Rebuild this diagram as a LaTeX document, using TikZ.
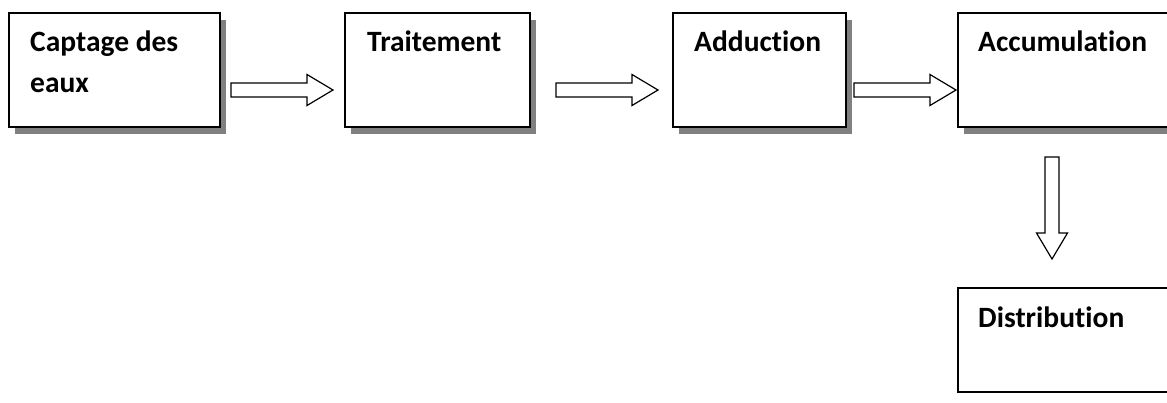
\documentclass[tikz,border=0pt]{standalone}
\usepackage{fontspec}
\setmainfont{Carlito}[Ligatures=NoCommon]

\tikzset{
    stage/.style={draw=black, fill=white, line width=1.6pt, inner sep=0pt,
        minimum width=#1, minimum height=114pt, anchor=north west},
    shadowed/.style={preaction={fill=black!50, transform canvas={xshift=6.5pt, yshift=-7.5pt}}},
    stagetext/.style={anchor=base west, inner sep=0pt, align=left,
        font=\fontsize{29.5}{41}\selectfont\bfseries},
    arrowline/.style={draw=black, fill=white, line width=1.2pt, line join=miter}
}
% block arrow of length 102, starting at #1, turned by #2
\newcommand{\blockarrow}[2]{%
    \draw[arrowline, shift={(#1)}, rotate=#2]
        (0,-7) -- (76,-7) -- (76,-15.5) -- (102,0) -- (76,15.5) -- (76,7) -- (0,7) -- cycle;}

\begin{document}
\begin{tikzpicture}[x=1pt, y=-1pt]
    \clip (0,0) rectangle (1167,402);
    \fill[white] (0,0) rectangle (1167,402);

    % stages
    \node[stage=211pt, shadowed] (capt) at (8,12) {};
    \node[stage=185pt, shadowed] (trait) at (344,12) {};
    \node[stage=173pt, shadowed] (addu) at (672,12) {};
    \node[stage=225pt, shadowed] (accu) at (957,12) {};
    \node[stage=225pt, minimum height=104pt] (distr) at (957,287) {};

    \node[stagetext] (captT)  at ([xshift=22pt,yshift=-80pt]capt.north west)  {Captage des\\eaux};
    \node[stagetext] (traitT) at ([xshift=23pt,yshift=-39pt]trait.north west) {Traitement};
    \node[stagetext] (adduT)  at ([xshift=22pt,yshift=-39pt]addu.north west)  {Adduction};
    \node[stagetext] (accuT)  at ([xshift=21pt,yshift=-39pt]accu.north west)  {Accumulation};
    \node[stagetext] (distrT) at ([xshift=21pt,yshift=-40pt]distr.north west) {Distribution};

    % arrows
    \coordinate (a1) at (231,90);
    \coordinate (a2) at (556,90);
    \coordinate (a3) at (854,90);
    \coordinate (a4) at (1052,157);
    \blockarrow{a1}{0}
    \blockarrow{a2}{0}
    \blockarrow{a3}{0}
    \blockarrow{a4}{-90}
\end{tikzpicture}
\end{document}
